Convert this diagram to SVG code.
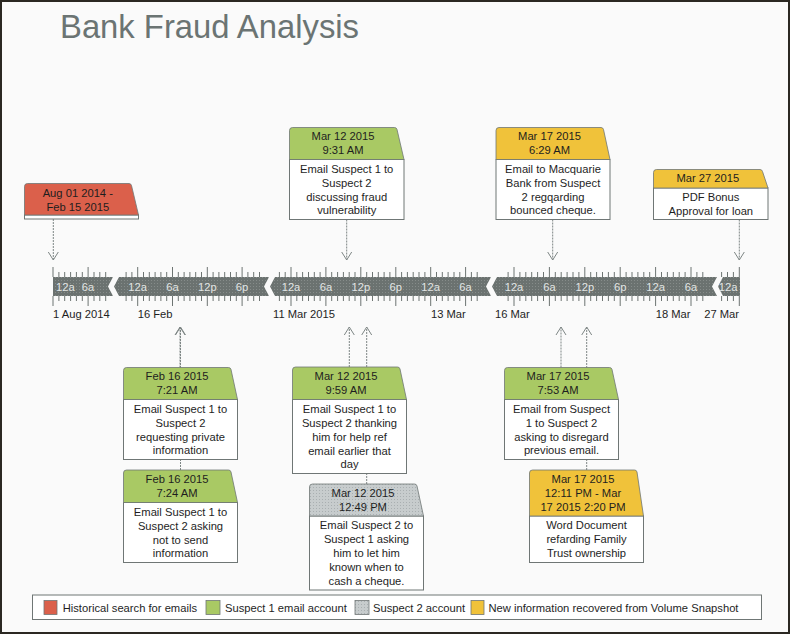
<svg xmlns="http://www.w3.org/2000/svg" width="790" height="634" viewBox="0 0 790 634">
<style>
text{font-family:"Liberation Sans",Arial,sans-serif;font-size:11.2px;fill:#1e1e1e}
.title{font-size:32.8px;fill:#6b7473}
.hd{text-anchor:middle}
.bd{text-anchor:middle}
.body{fill:#ffffff;stroke:#6f7675;stroke-width:1}
.hdr{stroke:#6f7675;stroke-width:0.8}
.red{fill:#db604b}
.green{fill:#a9c964}
.yellow{fill:#f0c23a}
.gray{fill:url(#grayDots)}
.band{fill:url(#bandDots)}
.blab{fill:#e2e5e4;text-anchor:middle}
.tick{stroke:#6d7472;stroke-width:1;fill:none}
.conn{stroke:#7e8685;stroke-width:1;stroke-dasharray:2 1;fill:none;marker-end:url(#arr)}
.sw{stroke:#6f7675;stroke-width:0.8}
</style>
<defs>
<pattern id="bandDots" width="3" height="3" patternUnits="userSpaceOnUse">
<rect width="3" height="3" fill="#6b7270"/>
<rect x="1" y="1" width="1" height="1" fill="#868c8a"/>
</pattern>
<pattern id="grayDots" width="3" height="3" patternUnits="userSpaceOnUse">
<rect width="3" height="3" fill="#c7cccd"/>
<rect x="1" y="1" width="1" height="1" fill="#a9afb1"/>
</pattern>
<marker id="arr" viewBox="-10 -6 12 12" refX="0" refY="0" markerWidth="12" markerHeight="12" markerUnits="userSpaceOnUse" orient="auto" overflow="visible">
<path d="M-8,-5 L0,0 L-8,5" fill="none" stroke="#7e8685" stroke-width="1"/>
</marker>
</defs>
<rect x="0" y="0" width="790" height="634" fill="#fafafa"/>
<rect x="1" y="1" width="788" height="632" fill="none" stroke="#2b2822" stroke-width="2"/>
<text class="title" x="60" y="37.5">Bank Fraud Analysis</text>

<g id="connectors">
<path class="conn" d="M53.3,219 V260"/>
<path class="conn" d="M346.7,219.5 V260"/>
<path class="conn" d="M552.7,219.5 V260"/>
<path class="conn" d="M739.3,219.5 V260"/>
<path class="conn" d="M180,367.5 V327"/>
<path class="conn" d="M180.5,470 V327"/>
<path class="conn" d="M349.3,367 V327"/>
<path class="conn" d="M366.7,484 V327"/>
<path class="conn" d="M561,367.5 V327"/>
<path class="conn" d="M586.7,470 V327"/>
</g>

<g id="timeline">
<path class="band" d="M53,277 H113 L108,286.5 L113,296 H53 Z"/>
<path class="band" d="M119,277 H269 L264,286.5 L269,296 H119 L114,286.5 Z"/>
<path class="band" d="M275,277 H491 L486,286.5 L491,296 H275 L270,286.5 Z"/>
<path class="band" d="M497,277 H717 L712,286.5 L717,296 H497 L492,286.5 Z"/>
<path class="band" d="M723,277 H740 V296 H723 L718,286.5 Z"/>
<path class="tick" d="M53 267v10m0 19v10 M88.1 267v10m0 19v10 M137.7 267v10m0 19v10 M172.5 267v10m0 19v10 M207.3 267v10m0 19v10 M242.1 267v10m0 19v10 M291 267v10m0 19v10 M325.9 267v10m0 19v10 M360.8 267v10m0 19v10 M395.8 267v10m0 19v10 M430.7 267v10m0 19v10 M465.6 267v10m0 19v10 M514 267v10m0 19v10 M549.4 267v10m0 19v10 M584.8 267v10m0 19v10 M620.2 267v10m0 19v10 M655.6 267v10m0 19v10 M691 267v10m0 19v10 M739.3 267v10m0 19v10"/>
<path class="tick" d="M58.9 272v5m0 19v5 M64.7 272v5m0 19v5 M70.6 272v5m0 19v5 M76.4 272v5m0 19v5 M82.3 272v5m0 19v5 M94 272v5m0 19v5 M99.8 272v5m0 19v5 M105.7 272v5m0 19v5
M126.1 272v5m0 19v5 M131.9 272v5m0 19v5 M143.5 272v5m0 19v5 M149.3 272v5m0 19v5 M155.1 272v5m0 19v5 M160.9 272v5m0 19v5 M166.7 272v5m0 19v5 M178.3 272v5m0 19v5 M184.1 272v5m0 19v5 M189.9 272v5m0 19v5 M195.7 272v5m0 19v5 M201.5 272v5m0 19v5 M213.1 272v5m0 19v5 M218.9 272v5m0 19v5 M224.7 272v5m0 19v5 M230.5 272v5m0 19v5 M236.3 272v5m0 19v5 M247.9 272v5m0 19v5 M253.7 272v5m0 19v5 M259.5 272v5m0 19v5
M279.4 272v5m0 19v5 M285.2 272v5m0 19v5 M296.8 272v5m0 19v5 M302.6 272v5m0 19v5 M308.5 272v5m0 19v5 M314.3 272v5m0 19v5 M320.1 272v5m0 19v5 M331.7 272v5m0 19v5 M337.6 272v5m0 19v5 M343.4 272v5m0 19v5 M349.2 272v5m0 19v5 M355 272v5m0 19v5 M366.7 272v5m0 19v5 M372.5 272v5m0 19v5 M378.3 272v5m0 19v5 M384.1 272v5m0 19v5 M389.9 272v5m0 19v5 M401.6 272v5m0 19v5 M407.4 272v5m0 19v5 M413.2 272v5m0 19v5 M419 272v5m0 19v5 M424.9 272v5m0 19v5 M436.5 272v5m0 19v5 M442.3 272v5m0 19v5 M448.1 272v5m0 19v5 M454 272v5m0 19v5 M459.8 272v5m0 19v5 M471.4 272v5m0 19v5 M477.2 272v5m0 19v5
M508.1 272v5m0 19v5 M519.9 272v5m0 19v5 M525.8 272v5m0 19v5 M531.7 272v5m0 19v5 M537.6 272v5m0 19v5 M543.5 272v5m0 19v5 M555.3 272v5m0 19v5 M561.2 272v5m0 19v5 M567.1 272v5m0 19v5 M573 272v5m0 19v5 M578.9 272v5m0 19v5 M590.7 272v5m0 19v5 M596.6 272v5m0 19v5 M602.5 272v5m0 19v5 M608.4 272v5m0 19v5 M614.3 272v5m0 19v5 M626.1 272v5m0 19v5 M632 272v5m0 19v5 M637.9 272v5m0 19v5 M643.8 272v5m0 19v5 M649.7 272v5m0 19v5 M661.5 272v5m0 19v5 M667.4 272v5m0 19v5 M673.3 272v5m0 19v5 M679.2 272v5m0 19v5 M685.1 272v5m0 19v5 M696.9 272v5m0 19v5 M702.8 272v5m0 19v5
M721.6 272v5m0 19v5 M727.5 272v5m0 19v5 M733.4 272v5m0 19v5"/>
<text class="blab" x="56" y="290.5" style="text-anchor:start">12a</text>
<text class="blab" x="88.1" y="290.5">6a</text>
<text class="blab" x="137.7" y="290.5">12a</text>
<text class="blab" x="172.5" y="290.5">6a</text>
<text class="blab" x="207.3" y="290.5">12p</text>
<text class="blab" x="242.1" y="290.5">6p</text>
<text class="blab" x="291" y="290.5">12a</text>
<text class="blab" x="325.9" y="290.5">6a</text>
<text class="blab" x="360.8" y="290.5">12p</text>
<text class="blab" x="395.8" y="290.5">6p</text>
<text class="blab" x="430.7" y="290.5">12a</text>
<text class="blab" x="465.6" y="290.5">6a</text>
<text class="blab" x="514" y="290.5">12a</text>
<text class="blab" x="549.4" y="290.5">6a</text>
<text class="blab" x="584.8" y="290.5">12p</text>
<text class="blab" x="620.2" y="290.5">6p</text>
<text class="blab" x="655.6" y="290.5">12a</text>
<text class="blab" x="691" y="290.5">6a</text>
<text class="blab" x="737.5" y="290.5" style="text-anchor:end">12a</text>
<text x="53" y="318">1 Aug 2014</text>
<text x="137.7" y="318">16 Feb</text>
<text x="273" y="318">11 Mar 2015</text>
<text x="431" y="318">13 Mar</text>
<text x="495" y="318">16 Mar</text>
<text x="655.7" y="318">18 Mar</text>
<text x="739" y="318" style="text-anchor:end">27 Mar</text>
</g>

<g id="node-aug01">
<rect class="body" x="24.5" y="215" width="114" height="4"/>
<path class="hdr red" d="M24.5,215 V186.5 Q24.5,183.5 27.5,183.5 H129 Q131,183.5 131.5,185.5 L138.5,215 Z"/>
<text class="hd" x="77.8" y="196.7">Aug 01 2014 -</text>
<text class="hd" x="77.8" y="210.5">Feb 15 2015</text>
</g>

<g id="node-mar12-0931">
<rect class="body" x="289.5" y="159.5" width="114.5" height="60"/>
<path class="hdr green" d="M289.5,159.5 V130.5 Q289.5,127.5 292.5,127.5 H394.5 Q396.5,127.5 397,129.5 L404,159.5 Z"/>
<text class="hd" x="343" y="140.2">Mar 12 2015</text>
<text class="hd" x="343" y="154.2">9:31 AM</text>
<text class="bd" x="346.7" y="172.7">Email Suspect 1 to</text>
<text class="bd" x="346.7" y="186.7">Suspect 2</text>
<text class="bd" x="346.7" y="200.7">discussing fraud</text>
<text class="bd" x="346.7" y="214.3">vulnerability</text>
</g>

<g id="node-mar17-0629">
<rect class="body" x="496" y="159.5" width="114" height="60"/>
<path class="hdr yellow" d="M496,159.5 V130.5 Q496,127.5 499,127.5 H601 Q603,127.5 603.5,129.5 L610,159.5 Z"/>
<text class="hd" x="549.5" y="140.2">Mar 17 2015</text>
<text class="hd" x="549.5" y="154.2">6:29 AM</text>
<text class="bd" x="553" y="172.7">Email to Macquarie</text>
<text class="bd" x="553" y="186.7">Bank from Suspect</text>
<text class="bd" x="553" y="200.7">2 regqarding</text>
<text class="bd" x="553" y="214.3">bounced cheque.</text>
</g>

<g id="node-mar27">
<rect class="body" x="653.5" y="188" width="114.5" height="31.5"/>
<path class="hdr yellow" d="M653.5,188 V172.5 Q653.5,169.5 656.5,169.5 H760 Q762,169.5 762.5,171.5 L768,188 Z"/>
<text class="hd" x="707.8" y="182.2">Mar 27 2015</text>
<text class="bd" x="710.8" y="201.2">PDF Bonus</text>
<text class="bd" x="710.8" y="215">Approval for loan</text>
</g>

<g id="node-feb16-0721">
<rect class="body" x="123.5" y="399.5" width="114" height="60"/>
<path class="hdr green" d="M123.5,399.5 V370.5 Q123.5,367.5 126.5,367.5 H228.5 Q230.5,367.5 231,369.5 L237.5,399.5 Z"/>
<text class="hd" x="177" y="380.2">Feb 16 2015</text>
<text class="hd" x="177" y="394.2">7:21 AM</text>
<text class="bd" x="180.5" y="412.7">Email Suspect 1 to</text>
<text class="bd" x="180.5" y="426.7">Suspect 2</text>
<text class="bd" x="180.5" y="440.7">requesting private</text>
<text class="bd" x="180.5" y="454.3">information</text>
</g>

<g id="node-feb16-0724">
<rect class="body" x="123.5" y="502.5" width="114" height="60"/>
<path class="hdr green" d="M123.5,502.5 V473 Q123.5,470 126.5,470 H228.5 Q230.5,470 231,472 L237.5,502.5 Z"/>
<text class="hd" x="177" y="482.9">Feb 16 2015</text>
<text class="hd" x="177" y="496.9">7:24 AM</text>
<text class="bd" x="180.5" y="515.7">Email Suspect 1 to</text>
<text class="bd" x="180.5" y="529.7">Suspect 2 asking</text>
<text class="bd" x="180.5" y="543.7">not to send</text>
<text class="bd" x="180.5" y="557.3">information</text>
</g>

<g id="node-mar12-0959">
<rect class="body" x="292.5" y="399.5" width="114" height="74"/>
<path class="hdr green" d="M292.5,399.5 V370 Q292.5,367 295.5,367 H397.5 Q399.5,367 400,369 L406.5,399.5 Z"/>
<text class="hd" x="346" y="379.9">Mar 12 2015</text>
<text class="hd" x="346" y="393.9">9:59 AM</text>
<text class="bd" x="349.5" y="412.7">Email Suspect 1 to</text>
<text class="bd" x="349.5" y="426.7">Suspect 2 thanking</text>
<text class="bd" x="349.5" y="440.7">him for help ref</text>
<text class="bd" x="349.5" y="454.7">email earlier that</text>
<text class="bd" x="349.5" y="468.3">day</text>
</g>

<g id="node-mar12-1249">
<rect class="body" x="309.5" y="516" width="114" height="74"/>
<path class="hdr gray" d="M309.5,516 V487 Q309.5,484 312.5,484 H414.5 Q416.5,484 417,486 L423.5,516 Z"/>
<text class="hd" x="363" y="496.9">Mar 12 2015</text>
<text class="hd" x="363" y="510.9">12:49 PM</text>
<text class="bd" x="366.5" y="529.2">Email Suspect 2 to</text>
<text class="bd" x="366.5" y="543.2">Suspect 1 asking</text>
<text class="bd" x="366.5" y="557.2">him to let him</text>
<text class="bd" x="366.5" y="571.2">known when to</text>
<text class="bd" x="366.5" y="585">cash a cheque.</text>
</g>

<g id="node-mar17-0753">
<rect class="body" x="504.5" y="399.5" width="114" height="60"/>
<path class="hdr green" d="M504.5,399.5 V370.5 Q504.5,367.5 507.5,367.5 H609.5 Q611.5,367.5 612,369.5 L618.5,399.5 Z"/>
<text class="hd" x="558" y="380.2">Mar 17 2015</text>
<text class="hd" x="558" y="394.2">7:53 AM</text>
<text class="bd" x="561.5" y="412.7">Email from Suspect</text>
<text class="bd" x="561.5" y="426.7">1 to Suspect 2</text>
<text class="bd" x="561.5" y="440.7">asking to disregard</text>
<text class="bd" x="561.5" y="454.3">previous email.</text>
</g>

<g id="node-mar17-1211">
<rect class="body" x="529.5" y="516" width="114" height="46.5"/>
<path class="hdr yellow" d="M529.5,516 V473 Q529.5,470 532.5,470 H634.5 Q636.5,470 637,472 L643.5,516 Z"/>
<text class="hd" x="583" y="482.9">Mar 17 2015</text>
<text class="hd" x="583" y="496.9">12:11 PM - Mar</text>
<text class="hd" x="583" y="510.9">17 2015 2:20 PM</text>
<text class="bd" x="586.5" y="529.2">Word Document</text>
<text class="bd" x="586.5" y="543.2">refarding Family</text>
<text class="bd" x="586.5" y="557">Trust ownership</text>
</g>

<g id="legend">
<rect x="32.5" y="595" width="729" height="24.5" fill="#ffffff" stroke="#6f7675" stroke-width="1"/>
<rect class="sw red" x="44" y="600.5" width="13" height="14"/>
<text x="62.7" y="611.5">Historical search for emails</text>
<rect class="sw green" x="206" y="600.5" width="14" height="14"/>
<text x="225" y="611.5">Suspect 1 email account</text>
<rect class="sw gray" x="355" y="600.5" width="14" height="14"/>
<text x="373" y="611.5">Suspect 2 account</text>
<rect class="sw yellow" x="471" y="600.5" width="13" height="14"/>
<text x="488.5" y="611.5">New information recovered from Volume Snapshot</text>
</g>
</svg>
